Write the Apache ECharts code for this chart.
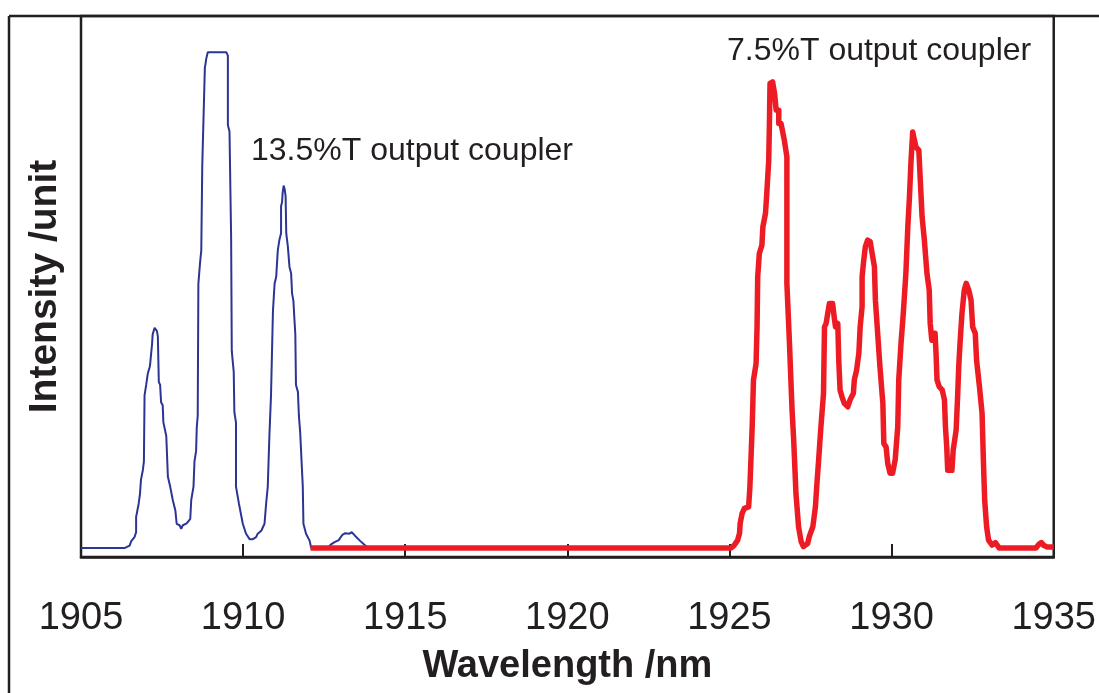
<!DOCTYPE html>
<html>
<head>
<meta charset="utf-8">
<script src="https://cdn.jsdelivr.net/npm/echarts@6/dist/echarts.min.js"></script>
<style>
  html, body { margin: 0; padding: 0; background: #fff; }
  #chart { width: 1099px; height: 693px; }
</style>
</head>
<body>
<div id="chart"></div>
<script>
// Emission spectra of the laser for two output couplers (intensity in arbitrary units)
const xTicks = [1905, 1910, 1915, 1920, 1925, 1930, 1935];

// 13.5%T output coupler
const blueWavelength = [
  1905.00, 1906.34, 1906.39, 1906.50, 1906.55, 1906.65, 1906.70, 1906.70, 1906.78, 1906.82,
  1906.85, 1906.91, 1906.94, 1906.96, 1907.01, 1907.06, 1907.11, 1907.13, 1907.16, 1907.19,
  1907.21, 1907.24, 1907.27, 1907.32, 1907.34, 1907.37, 1907.40, 1907.44, 1907.47, 1907.52,
  1907.54, 1907.63, 1907.68, 1907.75, 1907.83, 1907.91, 1907.95, 1908.04, 1908.09, 1908.14,
  1908.19, 1908.26, 1908.37, 1908.40, 1908.47, 1908.50, 1908.55, 1908.57, 1908.60, 1908.62,
  1908.67, 1908.71, 1908.74, 1908.82, 1908.84, 1908.86, 1908.91, 1909.48, 1909.53, 1909.53,
  1909.58, 1909.63, 1909.65, 1909.71, 1909.73, 1909.78, 1909.78, 1909.87, 1909.99, 1910.09,
  1910.20, 1910.30, 1910.40, 1910.45, 1910.56, 1910.66, 1910.71, 1910.76, 1910.81, 1910.86,
  1910.92, 1910.97, 1911.02, 1911.07, 1911.12, 1911.17, 1911.17, 1911.20, 1911.22, 1911.25,
  1911.28, 1911.31, 1911.33, 1911.38, 1911.43, 1911.48, 1911.51, 1911.55, 1911.58, 1911.61,
  1911.63, 1911.69, 1911.72, 1911.76, 1911.84, 1911.86, 1911.94, 1912.05, 1912.10, 1912.60,
  1912.70, 1912.82, 1912.95, 1913.05, 1913.15, 1913.28, 1913.35, 1913.45, 1913.60, 1913.75,
  1913.85, 1914.20
];
const blueIntensity = [
  0, 0, 0.3, 0.5, 1.4, 2.2, 3.2, 6.3, 9.0, 11.0,
  13.8, 15.8, 17.5, 30.8, 32.9, 35.2, 36.3, 36.9, 39.0, 41.0,
  43.1, 43.4, 44.4, 44.4, 43.8, 42.7, 33.5, 32.9, 29.4, 28.8,
  25.4, 22.6, 14.4, 12.4, 9.7, 7.6, 4.9, 4.6, 3.9, 4.6,
  4.9, 5.0, 5.9, 9.7, 12.4, 17.5, 19.6, 24.3, 26.7, 53.3,
  57.4, 60.1, 77.2, 96.9, 97.6, 98.6, 100, 100, 99.3, 85.3,
  84.0, 62.8, 39.7, 35.6, 27.4, 25.3, 12.4, 9.0, 4.9, 2.9,
  1.8, 1.8, 2.2, 2.9, 3.5, 4.9, 9.0, 12.4, 22.6, 30.8,
  47.8, 53.3, 54.7, 60.1, 62.2, 63.5, 69.0, 69.7, 71.7, 73.1,
  72.4, 71.0, 63.5, 60.8, 56.7, 55.4, 51.3, 49.9, 46.4, 43.1,
  32.9, 31.5, 26.7, 23.3, 12.4, 4.9, 2.9, 1.5, 0, 0,
  0.7, 1.2, 1.6, 2.6, 3.0, 2.9, 3.2, 2.5, 1.5, 0.6,
  0, 0
];

// 7.5%T output coupler
const redWavelength = [
  1912.08, 1925.05, 1925.15, 1925.25, 1925.31, 1925.33, 1925.39, 1925.46, 1925.59, 1925.63,
  1925.70, 1925.74, 1925.82, 1925.85, 1925.87, 1925.92, 1926.00, 1926.03, 1926.11, 1926.15,
  1926.21, 1926.23, 1926.25, 1926.33, 1926.39, 1926.44, 1926.52, 1926.52, 1926.59, 1926.69,
  1926.77, 1926.77, 1926.85, 1926.93, 1926.98, 1927.05, 1927.13, 1927.21, 1927.28, 1927.41,
  1927.46, 1927.57, 1927.65, 1927.69, 1927.75, 1927.82, 1927.90, 1927.93, 1927.98, 1928.03,
  1928.08, 1928.18, 1928.24, 1928.27, 1928.34, 1928.37, 1928.41, 1928.47, 1928.54, 1928.65,
  1928.72, 1928.82, 1928.85, 1928.92, 1928.99, 1929.03, 1929.09, 1929.09, 1929.13, 1929.19,
  1929.26, 1929.34, 1929.40, 1929.47, 1929.50, 1929.57, 1929.64, 1929.73, 1929.76, 1929.83,
  1929.88, 1929.95, 1930.03, 1930.11, 1930.19, 1930.22, 1930.29, 1930.36, 1930.44, 1930.50,
  1930.55, 1930.60, 1930.65, 1930.70, 1930.75, 1930.84, 1930.89, 1930.94, 1931.01, 1931.09,
  1931.16, 1931.19, 1931.24, 1931.27, 1931.34, 1931.37, 1931.40, 1931.47, 1931.56, 1931.63,
  1931.66, 1931.70, 1931.73, 1931.86, 1931.90, 1931.99, 1932.04, 1932.07, 1932.11, 1932.17,
  1932.24, 1932.30, 1932.38, 1932.45, 1932.50, 1932.58, 1932.62, 1932.71, 1932.79, 1932.83,
  1932.87, 1932.93, 1932.99, 1933.10, 1933.20, 1933.32, 1934.45, 1934.55, 1934.62, 1934.70,
  1934.80, 1935.00
];
const redIntensity = [
  0, 0, 0.6, 1.6, 3.0, 5.0, 7.0, 8.0, 8.3, 12.4,
  24.5, 33.9, 37.2, 44.6, 54.7, 59.4, 61.1, 64.8, 67.5, 71.5,
  78.2, 85.0, 93.7, 94.0, 91.7, 88.3, 88.3, 85.6, 85.6, 82.3,
  78.9, 53.4, 41.3, 27.8, 21.8, 11.0, 4.3, 1.3, 0.3, 0.9,
  2.3, 4.3, 8.3, 12.4, 17.8, 24.5, 31.2, 44.6, 45.3, 47.3,
  49.3, 49.3, 46.0, 44.6, 45.3, 37.9, 31.9, 30.5, 29.2, 28.5,
  29.9, 31.2, 33.9, 35.9, 39.3, 44.6, 48.7, 54.7, 57.4, 60.8,
  62.1, 61.8, 59.4, 56.7, 50.0, 43.3, 36.6, 29.2, 21.1, 20.4,
  17.1, 15.1, 15.1, 17.8, 24.5, 33.9, 41.3, 47.3, 55.4, 64.8,
  70.8, 78.2, 83.9, 83.9, 80.9, 80.2, 73.5, 66.8, 62.1, 55.4,
  52.0, 45.3, 41.9, 43.3, 43.3, 39.3, 33.9, 32.5, 31.9, 29.9,
  24.5, 20.4, 15.7, 15.7, 19.8, 23.8, 31.2, 36.6, 41.3, 47.3,
  52.0, 53.4, 52.0, 50.0, 44.6, 43.3, 37.9, 32.5, 27.2, 17.8,
  9.7, 4.3, 1.6, 0.6, 1.1, 0, 0, 0.8, 1.1, 0.5,
  0.2, 0.2
];

const ink = '#231f20';
const font = 'Liberation Sans, Arial, sans-serif';
const pairs = (xs, ys) => xs.map((x, i) => [x, ys[i]]);

const chart = echarts.init(document.getElementById('chart'), null, { renderer: 'canvas' });
chart.setOption({
  animation: false,
  backgroundColor: '#ffffff',
  grid: {
    left: 81, top: 16, right: 45, bottom: 136,
    show: true, borderColor: ink, borderWidth: 2.5, backgroundColor: 'transparent'
  },
  xAxis: {
    type: 'value',
    min: xTicks[0], max: xTicks[xTicks.length - 1], interval: 5,
    name: 'Wavelength /nm',
    nameLocation: 'middle',
    nameGap: 91,
    nameTextStyle: { fontFamily: font, fontWeight: 'bold', fontSize: 38, color: ink },
    axisLine: { show: true, onZero: false, lineStyle: { color: ink, width: 2.5 } },
    axisTick: { show: true, inside: true, length: 13, lineStyle: { color: ink, width: 2 } },
    axisLabel: {
      margin: 43, fontFamily: font, fontSize: 38, color: ink,
      formatter: v => String(v)
    },
    splitLine: { show: false }
  },
  yAxis: {
    type: 'value',
    min: -1.8, max: 107.3,
    name: 'Intensity /unit',
    nameLocation: 'middle',
    nameGap: 16,
    nameRotate: 90,
    nameTextStyle: { fontFamily: font, fontWeight: 'bold', fontSize: 39, color: ink },
    axisLine: { show: false },
    axisTick: { show: false },
    axisLabel: { show: false },
    splitLine: { show: false }
  },
  series: [
    {
      name: '13.5%T output coupler',
      type: 'line',
      data: pairs(blueWavelength, blueIntensity),
      showSymbol: false,
      lineStyle: { color: '#2b3593', width: 2 },
      z: 2
    },
    {
      name: '7.5%T output coupler',
      type: 'line',
      data: pairs(redWavelength, redIntensity),
      showSymbol: false,
      lineStyle: { color: '#ed1c24', width: 5.5, join: 'round' },
      z: 3
    }
  ],
  graphic: [
    { type: 'line', shape: { x1: 9, y1: 16, x2: 1099, y2: 16 }, style: { stroke: ink, lineWidth: 2.5 } },
    { type: 'line', shape: { x1: 9, y1: 16, x2: 9, y2: 693 }, style: { stroke: ink, lineWidth: 2.5 } },
    {
      type: 'text', left: 251, top: 135,
      style: { text: '13.5%T output coupler', fontFamily: font, fontSize: 32, fill: ink }
    },
    {
      type: 'text', left: 727, top: 35,
      style: { text: '7.5%T output coupler', fontFamily: font, fontSize: 32, fill: ink }
    }
  ]
});
</script>
</body>
</html>
